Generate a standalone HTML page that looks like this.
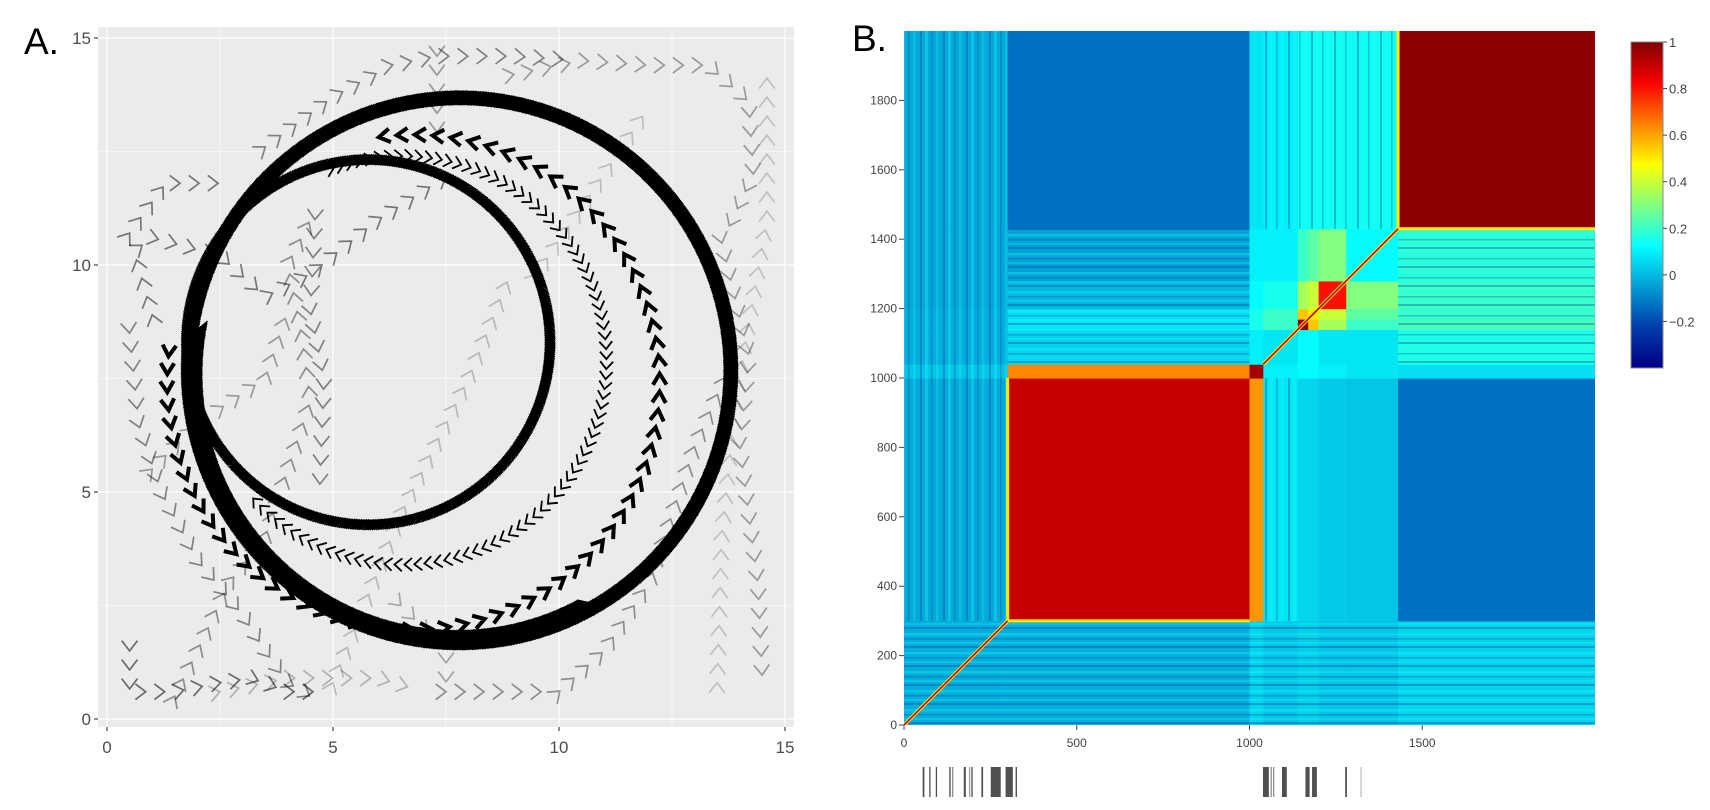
<!DOCTYPE html>
<html>
<head>
<meta charset="utf-8">
<style>
  html,body{margin:0;padding:0;background:#fff;}
  svg{display:block;font-family:"Liberation Sans",sans-serif;}
</style>
</head>
<body>
<svg id="fig" width="1710" height="810" viewBox="0 0 1710 810" xmlns="http://www.w3.org/2000/svg">
  <defs>
    <clipPath id="clipA"><rect x="98" y="27" width="696" height="700"/></clipPath>
    <clipPath id="clipB"><rect x="904" y="31" width="691" height="694"/></clipPath>
    <linearGradient id="jetGrad" x1="0" y1="1" x2="0" y2="0">
      <stop offset="0" stop-color="rgb(0,0,131)"/>
      <stop offset="0.125" stop-color="rgb(0,60,170)"/>
      <stop offset="0.375" stop-color="rgb(5,255,255)"/>
      <stop offset="0.625" stop-color="rgb(255,255,0)"/>
      <stop offset="0.875" stop-color="rgb(250,0,0)"/>
      <stop offset="1" stop-color="rgb(128,0,0)"/>
    </linearGradient>
    <pattern id="vStripes" width="23" height="10" patternUnits="userSpaceOnUse">
      <rect x="0" y="0" width="2" height="10" fill="#003c9a" opacity="0.35"/>
      <rect x="5" y="0" width="3" height="10" fill="#20ffff" opacity="0.3"/>
      <rect x="11" y="0" width="1.5" height="10" fill="#003c9a" opacity="0.3"/>
      <rect x="16" y="0" width="2.5" height="10" fill="#20ffff" opacity="0.25"/>
    </pattern>
    <pattern id="hStripes" width="10" height="19" patternUnits="userSpaceOnUse">
      <rect x="0" y="0" width="10" height="2" fill="#003c9a" opacity="0.35"/>
      <rect x="0" y="6" width="10" height="2.5" fill="#20ffff" opacity="0.3"/>
      <rect x="0" y="11" width="10" height="1.5" fill="#003c9a" opacity="0.3"/>
      <rect x="0" y="15" width="10" height="2" fill="#20ffff" opacity="0.25"/>
    </pattern>
  </defs>
  <text x="24" y="54" font-size="37" fill="#000">A.</text>
  <text x="852" y="51" font-size="37" fill="#000">B.</text>
  <g id="panelA"></g>
  <g id="panelB"></g>
</svg>
<script>
// ---------------- Panel A data ----------------
const aTicks = [0, 5, 10, 15];
const aMinorTicks = [2.5, 7.5, 12.5];
const ringCx = [7.8, 7.75, 5.78, 6.55, 6.78];
const ringCy = [7.68, 7.6, 8.3, 7.9, 7.42];
const ringR = [6.0, 5.8, 4.02, 4.5, 5.45];
const ringA0 = [0, 170, 0, 110, 174];
const ringA1 = [360, 300, 360, -138, 460];
const ringKind = ["thick", "thick", "inner", "thin", "bold"];
const grayPaths = [
  [[0.5,10.7],[1.3,11.8],[2.7,11.8]],
  [[1.0,8.9],[0.6,10.3],[1.0,10.6],[2.5,10.2],[3.5,9.3],[4.5,9.8],[6.0,11.0],[7.6,12.0]],
  [[3.5,12.6],[5.0,13.7],[6.3,14.4],[7.3,14.6],[9.0,14.6],[10.5,14.5]],
  [[7.3,14.6],[7.3,12.8]],
  [[9.0,14.2],[10.5,14.5],[12.0,14.4],[13.3,14.4],[14.2,13.6],[14.3,12.0],[13.6,10.5],[14.2,8.0],[14.0,6.0],[14.4,3.0],[14.5,0.8]],
  [[13.5,0.8],[13.6,4.0],[13.9,7.0],[14.6,11.0],[14.6,14.5]],
  [[0.5,8.5],[0.7,6.5],[1.2,5.0],[2.0,3.5],[3.0,2.3],[3.5,1.5],[4.0,0.8],[4.5,0.5]],
  [[0.5,1.5],[0.5,0.6],[1.5,0.6],[2.5,0.8],[3.2,0.9],[4.0,0.6],[4.6,0.6]],
  [[1.5,0.5],[2.0,1.5],[2.7,3.0],[3.5,4.0],[4.0,5.5],[4.5,7.0],[4.3,8.5],[4.0,10.0],[4.5,11.0]],
  [[4.6,11.0],[4.5,9.0],[4.8,7.5],[4.7,5.0]],
  [[5.0,0.8],[6.5,4.5],[8.0,7.5],[9.0,10.0]],
  [[7.5,0.6],[10.0,0.6],[11.0,1.5],[12.0,3.0],[12.5,4.5],[13.0,6.0],[13.8,7.8]],
  [[6.5,2.5],[7.5,1.5],[7.5,0.6]],
  [[2.5,0.6],[4.0,0.9],[6.0,0.9],[7.0,0.6]],
  [[1.0,5.5],[2.0,6.5],[3.5,7.5],[4.0,9.0]],
  [[9.5,9.8],[11.0,12.0],[12.0,13.5]]
];
const grayOpacity = [0.5,0.5,0.45,0.35,0.35,0.18,0.45,0.55,0.4,0.45,0.22,0.4,0.3,0.25,0.35,0.2];

// ---------------- Panel B data ----------------
const segStart = [0, 300, 1000, 1040, 1140, 1170, 1200, 1280, 1430];
const segEnd   = [300, 1000, 1040, 1140, 1170, 1200, 1280, 1430, 2000];
const corrRowN  = [-0.02, -0.02, 0.05, 0.02, 0.04, 0.04, 0.02, 0.02, 0.05];
const corrRowA  = [-0.03, 0.9, 0.62, 0.08, 0.05, 0.05, 0.03, 0.02, -0.13];
const corrRowA2 = [0.02, 0.64, 0.95, 0.1, 0.12, 0.12, 0.1, 0.08, 0.07];
const corrRowM  = [-0.02, 0.05, 0.1, 0.08, 0.12, 0.12, 0.08, 0.08, 0.16];
const corrRowC  = [-0.02, 0.08, 0.15, 0.2, 0.97, 0.55, 0.35, 0.2, 0.22];
const corrRowM2 = [-0.02, 0.07, 0.15, 0.2, 0.55, 0.5, 0.4, 0.25, 0.2];
const corrRowD  = [-0.03, 0.0, 0.12, 0.15, 0.35, 0.4, 0.8, 0.3, 0.2];
const corrRowM3 = [-0.03, -0.04, 0.1, 0.1, 0.2, 0.25, 0.3, 0.12, 0.18];
const corrRowE  = [-0.03, -0.13, 0.08, 0.1, 0.14, 0.14, 0.14, 0.14, 0.98];
const diagSegs = [[0, 300], [1040, 1430]];
const hxTicks = [0, 500, 1000, 1500];
const hyTicks = [0, 200, 400, 600, 800, 1000, 1200, 1400, 1600, 1800];
const cbTicks = [1, 0.8, 0.6, 0.4, 0.2, 0, -0.2];
const cbTickLabels = ["1", "0.8", "0.6", "0.4", "0.2", "0", "\u22120.2"];
const rugStart = [54, 73, 92, 131, 139, 173, 188, 195, 224, 251, 294, 323, 1039, 1061, 1068, 1094, 1162, 1181, 1277, 1321];
const rugEnd   = [59, 76, 95, 135, 142, 179, 191, 198, 229, 280, 315, 327, 1056, 1064, 1071, 1108, 1174, 1195, 1282, 1323];
const rugShade = ["#505050","#505050","#505050","#505050","#909090","#505050","#a0a0a0","#505050","#505050","#505050","#505050","#505050","#505050","#909090","#909090","#505050","#505050","#505050","#505050","#c0c0c0"];
const stripeV = [[0,300,300,2000],[1040,1430,1430,2000],[1040,1140,300,1000]];
const stripeH = [[300,1040,0,300],[1040,2000,0,300],[300,1000,1040,1430],[1430,2000,1040,1430],[0,300,0,300]];

// ---------------- helpers ----------------
const NS = "http://www.w3.org/2000/svg";
function mk(tag, attrs, parent) {
  const el = document.createElementNS(NS, tag);
  for (const k in attrs) el.setAttribute(k, attrs[k]);
  parent.appendChild(el);
  return el;
}
const sx = v => 107 + 45.2 * v;
const sy = v => 719 - 45.4 * v;

// ---------------- Panel A ----------------
const pA = document.getElementById("panelA");
const bg = mk("rect", {x:98, y:27, width:696, height:700, fill:"#EBEBEB"}, pA);


aMinorTicks.forEach(v => {
  const l1 = mk("line", {x1:sx(v), x2:sx(v), y1:27, y2:727, stroke:"#fff", "stroke-width":0.6}, pA);
  
  
  const l2 = mk("line", {x1:98, x2:794, y1:sy(v), y2:sy(v), stroke:"#fff", "stroke-width":0.6}, pA);
  
  
});
aTicks.forEach(v => {
  const l1 = mk("line", {x1:sx(v), x2:sx(v), y1:27, y2:727, stroke:"#fff", "stroke-width":1.2}, pA);
  
  
  const l2 = mk("line", {x1:98, x2:794, y1:sy(v), y2:sy(v), stroke:"#fff", "stroke-width":1.2}, pA);
  
  
  const t1 = mk("line", {x1:sx(v), x2:sx(v), y1:727, y2:731, stroke:"#333", "stroke-width":1.1}, pA);
  
  
  const t2 = mk("line", {x1:94, x2:98, y1:sy(v), y2:sy(v), stroke:"#333", "stroke-width":1.1}, pA);
  
  
  const xl = mk("text", {x:sx(v), y:753, "font-size":17, fill:"#4D4D4D", "text-anchor":"middle"}, pA);
  xl.textContent = v;
  
  
  const yl = mk("text", {x:91, y:sy(v)+6, "font-size":17, fill:"#4D4D4D", "text-anchor":"end"}, pA);
  yl.textContent = v;
  
  
});
const trajG = mk("g", {"clip-path":"url(#clipA)"}, pA);



function chev(x, y, ang, L, spread) {
  const b = ang + Math.PI;
  const x1 = x + L*Math.cos(b - spread), y1 = y + L*Math.sin(b - spread);
  const x2 = x + L*Math.cos(b + spread), y2 = y + L*Math.sin(b + spread);
  return "M" + x1.toFixed(1) + "," + y1.toFixed(1) + "L" + x.toFixed(1) + "," + y.toFixed(1) + "L" + x2.toFixed(1) + "," + y2.toFixed(1);
}
function chevAlong(pts, gap, L, spread) {
  let d = "", carry = 0;
  for (let i = 0; i < pts.length - 1; i++) {
    const [x0, y0] = pts[i], [x1, y1] = pts[i+1];
    const len = Math.hypot(x1-x0, y1-y0);
    if (len === 0) continue;
    const ang = Math.atan2(y1-y0, x1-x0);
    let s = carry;
    while (s <= len) {
      const t = s / len;
      d += chev(x0 + (x1-x0)*t, y0 + (y1-y0)*t, ang, L, spread);
      s += gap;
    }
    carry = s - len;
  }
  return d;
}

grayPaths.forEach((path, i) => {
  const pts = path.map(p => [sx(p[0]), sy(p[1])]);
  const d = chevAlong(pts, 19, 13, 0.65);
  const el = mk("path", {d: d, fill:"none", stroke:"#000", "stroke-opacity":grayOpacity[i], "stroke-width":1.7, "stroke-linejoin":"miter"}, trajG);
  
  
});

const kindStyle = {
  thick: {gap:1.6, L:11, spread:0.72, sw:1.4, op:1},
  inner: {gap:1.8, L:8, spread:0.72, sw:1.3, op:1},
  thin:  {gap:10, L:10, spread:0.7, sw:1.8, op:1},
  bold:  {gap:18, L:13, spread:0.55, sw:4, op:1}
};
ringCx.forEach((cx, i) => {
  const st = kindStyle[ringKind[i]];
  const a0 = ringA0[i], a1 = ringA1[i];
  const n = Math.max(20, Math.ceil(Math.abs(a1 - a0) / 2));
  const pts = [];
  for (let k = 0; k <= n; k++) {
    const a = (a0 + (a1 - a0) * k / n) * Math.PI / 180;
    pts.push([sx(cx + ringR[i]*Math.cos(a)), sy(ringCy[i] + ringR[i]*Math.sin(a))]);
  }
  const d = chevAlong(pts, st.gap, st.L, st.spread);
  const el = mk("path", {d: d, fill:"none", stroke:"#000", "stroke-opacity":st.op, "stroke-width":st.sw}, trajG);
  
  
});

// ---------------- Panel B ----------------
const pB = document.getElementById("panelB");
const hx = i => 904 + i * (691 / 2000);
const hy = i => 725 - i * (694 / 2000);
const jetStops = [[0,[0,0,131]],[0.125,[0,60,170]],[0.375,[5,255,255]],[0.625,[255,255,0]],[0.875,[250,0,0]],[1,[128,0,0]]];
function jet(v) {
  let f = (v + 0.4) / 1.4;
  f = Math.max(0, Math.min(1, f));
  for (let k = 0; k < jetStops.length - 1; k++) {
    const [f0, c0] = jetStops[k], [f1, c1] = jetStops[k+1];
    if (f <= f1) {
      const t = (f - f0) / (f1 - f0);
      return "rgb(" + c0.map((c, j) => Math.round(c + (c1[j]-c)*t)).join(",") + ")";
    }
  }
  return "rgb(128,0,0)";
}
const corrRows = [corrRowN, corrRowA, corrRowA2, corrRowM, corrRowC, corrRowM2, corrRowD, corrRowM3, corrRowE];
const heatG = mk("g", {"clip-path":"url(#clipB)"}, pB);


corrRows.forEach((row, r) => {
  row.forEach((v, c) => {
    const x0 = hx(segStart[c]), x1 = hx(segEnd[c]);
    const y0 = hy(segEnd[r]), y1 = hy(segStart[r]);
    const el = mk("rect", {x:x0, y:y0, width:x1-x0+0.6, height:y1-y0+0.6, fill:jet(v)}, heatG);
    
    
  });
});
stripeV.forEach(s => {
  const el = mk("rect", {x:hx(s[0]), y:hy(s[3]), width:hx(s[1])-hx(s[0]), height:hy(s[2])-hy(s[3]), fill:"url(#vStripes)"}, heatG);
  
  
});
stripeH.forEach(s => {
  const el = mk("rect", {x:hx(s[0]), y:hy(s[3]), width:hx(s[1])-hx(s[0]), height:hy(s[2])-hy(s[3]), fill:"url(#hStripes)"}, heatG);
  
  
});
const edgeA = mk("path", {d:"M"+hx(300)+","+hy(1000)+"L"+hx(300)+","+hy(300)+"L"+hx(1000)+","+hy(300), fill:"none", stroke:jet(0.5), "stroke-width":3}, heatG);


const edgeE = mk("path", {d:"M"+hx(1430)+","+hy(2000)+"L"+hx(1430)+","+hy(1430)+"L"+hx(2000)+","+hy(1430), fill:"none", stroke:jet(0.5), "stroke-width":3}, heatG);


diagSegs.forEach(s => {
  const halo = mk("line", {x1:hx(s[0]), y1:hy(s[0]), x2:hx(s[1]), y2:hy(s[1]), stroke:jet(0.5), "stroke-width":3.5}, heatG);
  
  
  const ln = mk("line", {x1:hx(s[0]), y1:hy(s[0]), x2:hx(s[1]), y2:hy(s[1]), stroke:jet(0.9), "stroke-width":1.6}, heatG);
  
  
});
hxTicks.forEach(v => {
  const t = mk("line", {x1:hx(v), x2:hx(v), y1:725, y2:730, stroke:"#444", "stroke-width":1}, pB);
  
  
  const l = mk("text", {x:hx(v), y:747, "font-size":12, fill:"#444", "text-anchor":"middle"}, pB);
  l.textContent = v;
  
  
});
hyTicks.forEach(v => {
  const t = mk("line", {x1:899, x2:904, y1:hy(v), y2:hy(v), stroke:"#444", "stroke-width":1}, pB);
  
  
  const l = mk("text", {x:897, y:hy(v)+4, "font-size":12, fill:"#444", "text-anchor":"end"}, pB);
  l.textContent = v;
  
  
});
const cbY = v => 368 - (v + 0.4) / 1.4 * 326;
const cb = mk("rect", {x:1631, y:42, width:32, height:326, fill:"url(#jetGrad)", stroke:"#888", "stroke-width":1}, pB);


cbTicks.forEach((v, i) => {
  const t = mk("line", {x1:1663, x2:1667, y1:cbY(v), y2:cbY(v), stroke:"#444", "stroke-width":1}, pB);
  
  
  const l = mk("text", {x:1669, y:cbY(v)+5, "font-size":13, fill:"#444"}, pB);
  l.textContent = cbTickLabels[i];
  
  
});
rugStart.forEach((s, i) => {
  const w = Math.max(1.3, hx(rugEnd[i]) - hx(s));
  const r = mk("rect", {x:hx(s), y:767, width:w, height:30, fill:rugShade[i]}, pB);
  
  
});
</script>
</body>
</html>
